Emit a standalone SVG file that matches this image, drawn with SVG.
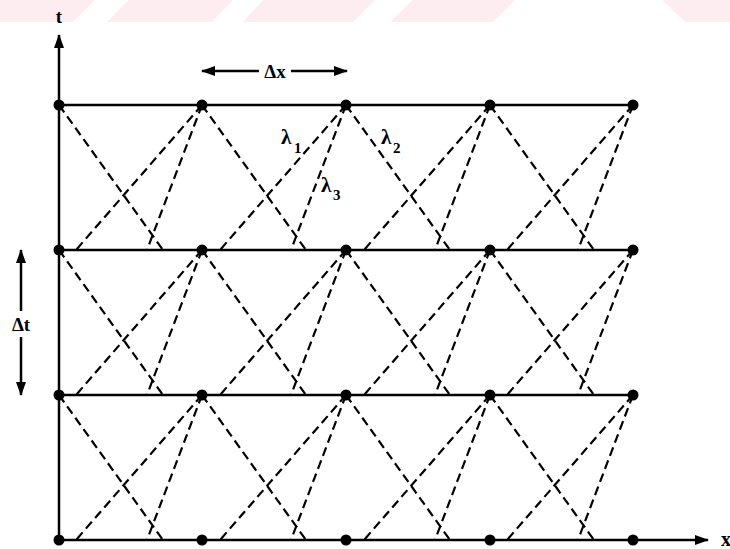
<svg xmlns="http://www.w3.org/2000/svg" width="730" height="549" viewBox="0 0 730 549">
<style>
.wm{fill:#fdedf0;stroke:none}
.solid{stroke:#000;stroke-width:2.5;fill:none}
.dash{stroke:#000;stroke-width:2.2;fill:none;stroke-dasharray:9 5}
.dot{fill:#000}
.lbl{font-family:"Liberation Serif","Times New Roman",serif;font-weight:bold;fill:#000}
.lam{font-family:"Liberation Serif","Times New Roman",serif;font-weight:bold;fill:#000;font-size:21px}
.sub{font-family:"Liberation Serif","Times New Roman",serif;font-weight:bold;fill:#000;font-size:15px}
</style>
<defs>
<marker id="ah" markerUnits="userSpaceOnUse" markerWidth="14" markerHeight="10" refX="13" refY="5" orient="auto-start-reverse">
<path d="M0,0 L14,5 L0,10 z" fill="#000"/>
</marker>
</defs>
<rect width="730" height="549" fill="#fff"/>
<g id="watermark">
<polygon class="wm" points="0,0 95,0 73,22 0,22"/>
<polygon class="wm" points="129,0 233,0 212,22 107,22"/>
<polygon class="wm" points="263,0 375,0 353,22 243,22"/>
<polygon class="wm" points="412,0 515,0 493,22 390,22"/>
<polygon class="wm" points="662,0 730,0 730,22 685,22"/>
</g>
<g id="axes">
<line class="solid" x1="59" y1="540" x2="59" y2="35" marker-end="url(#ah)"/>
<line class="solid" x1="59" y1="540" x2="708" y2="540" marker-end="url(#ah)"/>
<text class="lbl" x="59" y="23" font-size="19" text-anchor="middle">t</text>
<text class="lbl" x="721" y="546" font-size="20">x</text>
</g>
<g id="connectors">
<line class="solid" x1="59" y1="105" x2="633" y2="105"/>
<line class="solid" x1="59" y1="250" x2="633" y2="250"/>
<line class="solid" x1="59" y1="395" x2="633" y2="395"/>
<g id="row1">
<line class="dash" x1="59" y1="105" x2="163" y2="250"/>
<line class="dash" x1="202" y1="105" x2="76" y2="250"/>
<line class="dash" x1="202" y1="105" x2="147" y2="250"/>
<line class="dash" x1="202" y1="105" x2="306" y2="250"/>
<line class="dash" x1="346" y1="105" x2="220" y2="250"/>
<line class="dash" x1="346" y1="105" x2="291" y2="250"/>
<line class="dash" x1="346" y1="105" x2="450" y2="250"/>
<line class="dash" x1="490" y1="105" x2="364" y2="250"/>
<line class="dash" x1="490" y1="105" x2="435" y2="250"/>
<line class="dash" x1="490" y1="105" x2="594" y2="250"/>
<line class="dash" x1="633" y1="105" x2="507" y2="250"/>
<line class="dash" x1="633" y1="105" x2="578" y2="250"/>
</g>
<g id="row2">
<line class="dash" x1="59" y1="250" x2="163" y2="395"/>
<line class="dash" x1="202" y1="250" x2="76" y2="395"/>
<line class="dash" x1="202" y1="250" x2="147" y2="395"/>
<line class="dash" x1="202" y1="250" x2="306" y2="395"/>
<line class="dash" x1="346" y1="250" x2="220" y2="395"/>
<line class="dash" x1="346" y1="250" x2="291" y2="395"/>
<line class="dash" x1="346" y1="250" x2="450" y2="395"/>
<line class="dash" x1="490" y1="250" x2="364" y2="395"/>
<line class="dash" x1="490" y1="250" x2="435" y2="395"/>
<line class="dash" x1="490" y1="250" x2="594" y2="395"/>
<line class="dash" x1="633" y1="250" x2="507" y2="395"/>
<line class="dash" x1="633" y1="250" x2="578" y2="395"/>
</g>
<g id="row3">
<line class="dash" x1="59" y1="395" x2="163" y2="540"/>
<line class="dash" x1="202" y1="395" x2="76" y2="540"/>
<line class="dash" x1="202" y1="395" x2="147" y2="540"/>
<line class="dash" x1="202" y1="395" x2="306" y2="540"/>
<line class="dash" x1="346" y1="395" x2="220" y2="540"/>
<line class="dash" x1="346" y1="395" x2="291" y2="540"/>
<line class="dash" x1="346" y1="395" x2="450" y2="540"/>
<line class="dash" x1="490" y1="395" x2="364" y2="540"/>
<line class="dash" x1="490" y1="395" x2="435" y2="540"/>
<line class="dash" x1="490" y1="395" x2="594" y2="540"/>
<line class="dash" x1="633" y1="395" x2="507" y2="540"/>
<line class="dash" x1="633" y1="395" x2="578" y2="540"/>
</g>
<g id="dx">
<line class="solid" x1="259" y1="71" x2="202" y2="71" marker-end="url(#ah)"/>
<line class="solid" x1="291" y1="71" x2="347" y2="71" marker-end="url(#ah)"/>
<text class="lbl" x="275" y="77.5" font-size="19" text-anchor="middle">Δx</text>
</g>
<g id="dt">
<line class="solid" x1="21" y1="311" x2="21" y2="250" marker-end="url(#ah)"/>
<line class="solid" x1="21" y1="337" x2="21" y2="395" marker-end="url(#ah)"/>
<text class="lbl" x="21" y="331" font-size="19" text-anchor="middle">Δt</text>
</g>
</g>
<g id="labels">
<text class="lam" x="281" y="144">λ</text><text class="sub" x="294" y="153">1</text>
<text class="lam" x="381" y="144">λ</text><text class="sub" x="393" y="153">2</text>
<text class="lam" x="321" y="192">λ</text><text class="sub" x="333" y="200">3</text>
</g>
<g id="nodes">
<g id="n-r0"><circle class="dot" cx="59" cy="105" r="5.5"/><circle class="dot" cx="202" cy="105" r="5.5"/><circle class="dot" cx="346" cy="105" r="5.5"/><circle class="dot" cx="490" cy="105" r="5.5"/><circle class="dot" cx="633" cy="105" r="5.5"/></g>
<g id="n-r1"><circle class="dot" cx="59" cy="250" r="5.5"/><circle class="dot" cx="202" cy="250" r="5.5"/><circle class="dot" cx="346" cy="250" r="5.5"/><circle class="dot" cx="490" cy="250" r="5.5"/><circle class="dot" cx="633" cy="250" r="5.5"/></g>
<g id="n-r2"><circle class="dot" cx="59" cy="395" r="5.5"/><circle class="dot" cx="202" cy="395" r="5.5"/><circle class="dot" cx="346" cy="395" r="5.5"/><circle class="dot" cx="490" cy="395" r="5.5"/><circle class="dot" cx="633" cy="395" r="5.5"/></g>
<g id="n-r3"><circle class="dot" cx="59" cy="540" r="5.5"/><circle class="dot" cx="202" cy="540" r="5.5"/><circle class="dot" cx="346" cy="540" r="5.5"/><circle class="dot" cx="490" cy="540" r="5.5"/><circle class="dot" cx="633" cy="540" r="5.5"/></g>
</g>
</svg>
